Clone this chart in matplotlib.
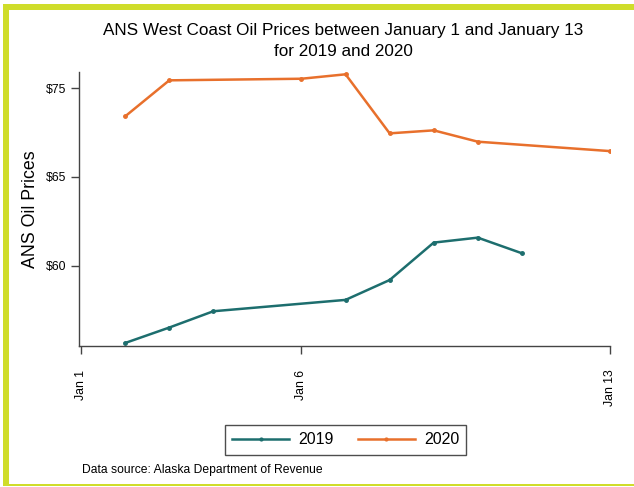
import matplotlib
matplotlib.use("Agg")
import matplotlib.pyplot as plt
from matplotlib.patches import Rectangle

plt.rcParams['font.family'] = ['Liberation Sans', 'DejaVu Sans']

# data (day of January, price in $)
days_2019 = [2, 3, 4, 7, 8, 9, 10, 11]
price_2019 = [55.64, 56.51, 57.43, 58.07, 59.19, 61.30, 61.58, 60.70]
days_2020 = [2, 3, 6, 7, 8, 9, 10, 13]
price_2020 = [68.42, 70.45, 70.54, 70.79, 67.46, 67.63, 66.99, 66.46]

x_ticks = [1, 6, 13]
x_labels = ["Jan 1", "Jan 6", "Jan 13"]
y_ticks = [60, 65, 70]
y_labels = ["$60", "$65", "$75"]  # label as printed in the original

c2019 = "#1d6e6e"
c2020 = "#e8702c"
border = "#cfdd2a"

fig = plt.figure(figsize=(6.34, 4.87), dpi=100)
ax = fig.add_axes([79 / 634, 1 - 346 / 487, 531 / 634, 274 / 487])

ax.plot(days_2019, price_2019, color=c2019, lw=1.8, marker="o", ms=2.5, label="2019")
ax.plot(days_2020, price_2020, color=c2020, lw=1.8, marker="o", ms=2.5, label="2020")

ax.set_xlim(0.952, 13)
ax.set_ylim(55.47, 70.92)
ax.set_xticks(x_ticks)
ax.set_xticklabels(x_labels, fontsize=8.8)
ax.set_yticks(y_ticks)
ax.set_yticklabels(y_labels, fontsize=8.8)
ax.tick_params(axis="both", length=6, width=1, color="#444444", pad=3)
ax.tick_params(axis="x", pad=11, labelrotation=90)
for lab in ax.get_xticklabels():
    lab.set_va("top")
    lab.set_ha("center")
for s in ["top", "right"]:
    ax.spines[s].set_visible(False)
for s in ["left", "bottom"]:
    ax.spines[s].set_color("#444444")
    ax.spines[s].set_linewidth(1)

ax.set_ylabel("ANS Oil Prices", fontsize=12.8, labelpad=5)

fig.text(0.541, 1 - 31 / 487, "ANS West Coast Oil Prices between January 1 and January 13",
         ha="center", va="center", fontsize=12.3)
fig.text(0.541, 1 - 52 / 487, "for 2019 and 2020", ha="center", va="center", fontsize=12.3)

leg = fig.legend(loc="center", bbox_to_anchor=(345.5 / 634, 1 - 440 / 487), ncol=2,
                 fontsize=11.5, frameon=True, fancybox=False, edgecolor="#222222",
                 handlelength=3.6, columnspacing=1.5, borderpad=0.45, handletextpad=0.55,
                 borderaxespad=0, markerscale=0.8)
leg.get_frame().set_linewidth(1)

fig.text(82 / 634, 1 - 470 / 487, "Data source: Alaska Department of Revenue",
         ha="left", va="center", fontsize=8.7)

# green frame on top, left and bottom
fig.patches.append(Rectangle((3 / 634, 1 - 10 / 487), 631 / 634, 6 / 487, transform=fig.transFigure,
                             color=border, lw=0))
fig.patches.append(Rectangle((3 / 634, 1 - 486 / 487), 6 / 634, 482 / 487, transform=fig.transFigure,
                             color=border, lw=0))
fig.patches.append(Rectangle((3 / 634, 1 - 486 / 487), 631 / 634, 2.5 / 487, transform=fig.transFigure,
                             color=border, lw=0))

fig.savefig("out.png", dpi=100)
